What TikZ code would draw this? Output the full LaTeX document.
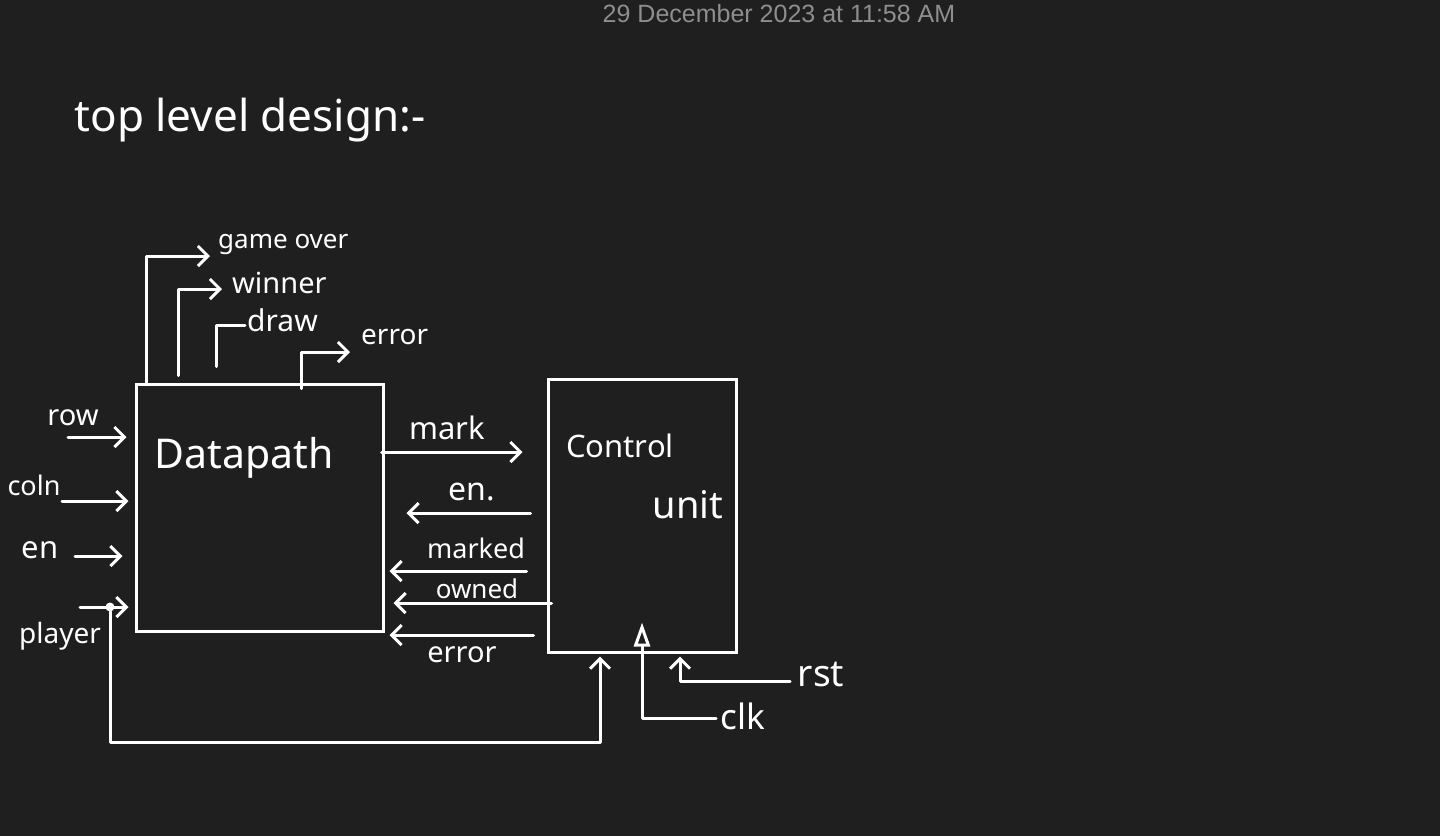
\documentclass[tikz,border=0pt]{standalone}
\usepackage{fontspec}
\setmainfont{Noto Sans}
\newfontfamily\stampfont{Liberation Sans}
\usetikzlibrary{arrows.meta,calc}
\definecolor{bgc}{HTML}{1F1F1F}
\definecolor{stampc}{HTML}{8E8E8E}
\tikzset{
  wire/.style={draw=white,line width=3pt,line cap=round,line join=round},
  arr/.style={wire,-{Straight Barb[length=10pt,width=20pt,line width=3pt]}},
  clkarr/.style={wire,-{Triangle[open,length=24pt,width=16pt,line width=3pt]}},
  box/.style={draw=white,line width=3pt,rectangle,inner sep=0pt},
  lbl/.style={text=white,inner sep=0pt,font=\fontsize{28}{30}\selectfont},
}
\begin{document}
\begin{tikzpicture}[x=1pt,y=-1pt]
\fill[bgc] (0,0) rectangle (1440,836);
\useasboundingbox (0,0) rectangle (1440,836);
% timestamp
\node[text=stampc,inner sep=0pt,font=\stampfont\fontsize{25}{27}\selectfont] (stamp) at (779,14) {29 December 2023 at 11:58 AM};
% title
\node[lbl,font=\fontsize{44}{48}\selectfont] (title) at (250,120) {top level design:-};
% boxes
\node[box,minimum width=247pt,minimum height=247pt] (dp) at (259.5,507.5) {};
\node[box,minimum width=188pt,minimum height=273pt] (cu) at (642,515.5) {};
\node[lbl,font=\fontsize{41}{46}\selectfont] (dpl) at (244,458) {Datapath};
\node[lbl,font=\fontsize{31}{36}\selectfont] (cul1) at (620,446) {Control};
\node[lbl,font=\fontsize{38}{42}\selectfont] (cul2) at (688,505) {unit};
% top outputs
\node[lbl,anchor=west,font=\fontsize{26}{28}\selectfont] (go) at (218,245) {game over};
\node[lbl,anchor=west,font=\fontsize{29}{31}\selectfont] (win) at (232,283) {winner};
\node[lbl,anchor=west,font=\fontsize{30}{32}\selectfont] (drw) at (247,320) {draw};
\node[lbl,anchor=west,font=\fontsize{28}{30}\selectfont] (err1) at (361,337) {error};
\coordinate (goE) at (210,256);
\coordinate (winE) at (222,289);
\coordinate (drwE) at (245,325);
\coordinate (errE) at (350,352);
\draw[arr] ([xshift=12pt]dp.north west) |- (goE);
\draw[arr] ([xshift=44pt,yshift=7pt]dp.north west) |- (winE);
\draw[wire] ([xshift=82pt,yshift=16pt]dp.north west) |- (drwE);
\draw[arr] ([xshift=167pt,yshift=-6pt]dp.north west) |- (errE);
% left inputs
\node[lbl,font=\fontsize{29}{31}\selectfont] (row) at (73,418) {row};
\node[lbl,font=\fontsize{27}{29}\selectfont] (coln) at (34,485) {coln};
\node[lbl,font=\fontsize{31}{33}\selectfont] (enl) at (40,550) {en};
\node[lbl,font=\fontsize{28}{30}\selectfont] (ply) at (60,636) {player};
\coordinate (rowS) at (68,437);
\coordinate (colS) at (62,501);
\coordinate (enS) at (75,556);
\coordinate (plS) at (80,607);
\draw[arr,shorten >=8pt] (rowS) -- (rowS -| dp.west);
\draw[arr,shorten >=6pt] (colS) -- (colS -| dp.west);
\draw[arr,shorten >=12pt] (enS) -- (enS -| dp.west);
\draw[arr,shorten >=6pt] (plS) -- (plS -| dp.west);
\coordinate (pdot) at (110,607);
\fill[white] (pdot) circle (4.5pt);
\coordinate (pbot) at (110,742);
\draw[arr,shorten >=3pt] (pdot) -- (pbot) -| ([xshift=-42pt]cu.south);
% mark / feedback signals
\node[lbl,font=\fontsize{31}{33}\selectfont] (mk) at (447,428) {mark};
\node[lbl,font=\fontsize{32}{34}\selectfont] (enm) at (472,492) {en.};
\node[lbl,font=\fontsize{27}{29}\selectfont] (mkd) at (476,548) {marked};
\node[lbl,font=\fontsize{26}{28}\selectfont] (own) at (477,589) {owned};
\node[lbl,font=\fontsize{29}{31}\selectfont] (err2) at (462,655) {error};
\coordinate (mY) at (0,452);
\coordinate (eY) at (0,513);
\coordinate (kY) at (0,571);
\coordinate (oY) at (0,603);
\coordinate (rY) at (0,635);
\draw[arr,shorten <=-3pt,shorten >=24pt] (mY -| dp.east) -- (mY -| cu.west);
\draw[arr,shorten <=16pt,shorten >=22pt] (eY -| cu.west) -- (eY -| dp.east);
\draw[arr,shorten <=20pt,shorten >=5pt] (kY -| cu.west) -- (kY -| dp.east);
\draw[arr,shorten <=-5pt,shorten >=9pt] (oY -| cu.west) -- (oY -| dp.east);
\draw[arr,shorten <=13pt,shorten >=5pt] (rY -| cu.west) -- (rY -| dp.east);
% clk and rst
\node[lbl,font=\fontsize{35}{37}\selectfont] (clk) at (743,716) {clk};
\node[lbl,font=\fontsize{37}{39}\selectfont] (rst) at (821,674) {rst};
\coordinate (clkW) at (716,718);
\coordinate (rstW) at (790,681);
\draw[clkarr] (clkW) -| ([yshift=31pt]cu.south);
\draw[arr,shorten >=3pt] (rstW) -| ([xshift=38pt]cu.south);
\end{tikzpicture}
\end{document}
